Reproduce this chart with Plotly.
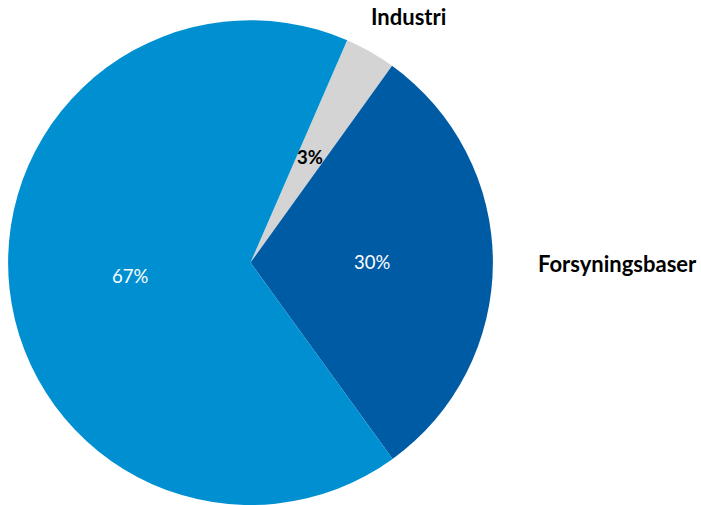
import plotly.graph_objects as go
import numpy as np

# data
labels = ["Industri", "Forsyningsbaser", "Annet"]
values = [3.4, 30.1, 66.5]
pct_text = ["3%", "30%", "67%"]
colors = ["#D4D4D4", "#005BA5", "#0090D2"]
text_colors = ["black", "white", "white"]
text_bold = [True, False, False]

start_deg = 23.5  # clockwise from 12 o'clock

fig = go.Figure(go.Pie(
    labels=labels,
    values=values,
    sort=False,
    direction="clockwise",
    rotation=start_deg,
    marker=dict(colors=colors, line=dict(width=0)),
    textinfo="none",
    hoverinfo="label+percent",
    domain=dict(x=[8 / 701, 493 / 701], y=[0, 0.96]),
    showlegend=False,
))

# pie centre / radius in paper units, used to place the in-slice percentages
cx = (8 + 493) / 2 / 701
cy = 0.48
r_px = 242.5
W, H = 701, 505

total = sum(values)
ang = start_deg
anns = []
for v, t, c, b in zip(values, pct_text, text_colors, text_bold):
    mid = ang + v / total * 360 / 2
    ang += v / total * 360
    th = np.radians(mid)
    x = cx + 0.5 * r_px * np.sin(th) / W
    y = cy + 0.5 * r_px * np.cos(th) / H
    anns.append(dict(x=x, y=y, xref="paper", yref="paper", showarrow=False,
                     xanchor="center", yanchor="middle",
                     text="<b>%s</b>" % t if b else t,
                     font=dict(size=18.5, color=c)))

# category names outside the pie
anns.append(dict(x=408 / W, y=1 - 16 / H, xref="paper", yref="paper", showarrow=False,
                 xanchor="center", yanchor="middle",
                 text="<b>Industri</b>", font=dict(size=22, color="black")))
anns.append(dict(x=617 / W, y=1 - 263 / H, xref="paper", yref="paper", showarrow=False,
                 xanchor="center", yanchor="middle",
                 text="<b>Forsyningsbaser</b>", font=dict(size=22, color="black")))

fig.update_layout(
    width=701, height=505,
    margin=dict(l=0, r=0, t=0, b=0),
    paper_bgcolor="white",
    font=dict(family="Lato, Noto Sans, sans-serif"),
    annotations=anns,
)

fig.write_html("out.html", config={"displayModeBar": False},
               post_script="document.body.style.margin='0';")
